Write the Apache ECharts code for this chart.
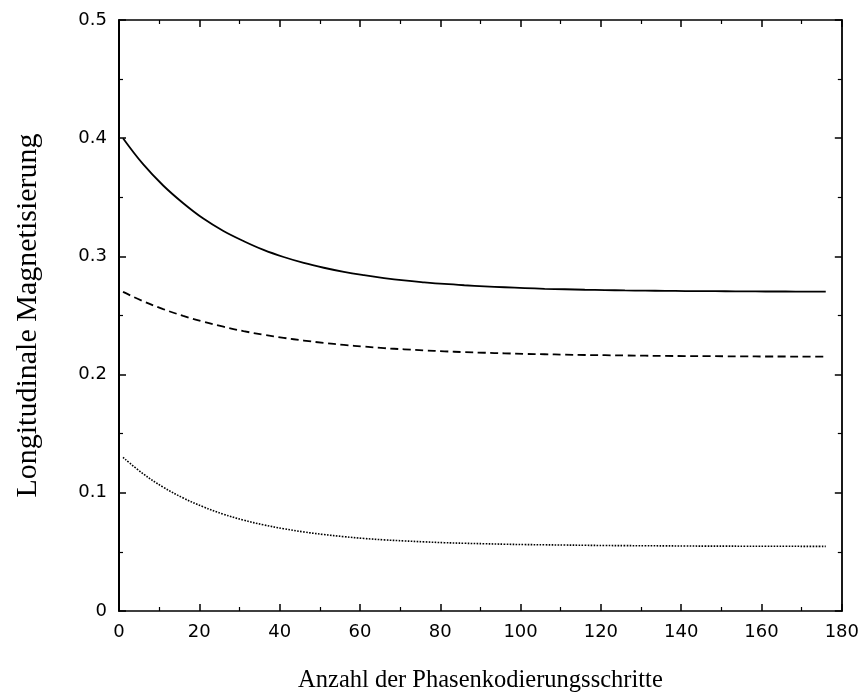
<!DOCTYPE html>
<html>
<head>
<meta charset="utf-8">
<script src="https://cdn.jsdelivr.net/npm/echarts@6/dist/echarts.min.js"></script>
<style>html,body{margin:0;padding:0;background:#fff}#c{width:862px;height:698px}</style>
</head>
<body>
<div id="c"></div>
<script>
const steps = [1, 6, 11, 16, 21, 26, 31, 36, 41, 46, 51, 56, 61, 66, 71, 76, 81, 86, 91, 96, 101, 106, 111, 116, 121, 126, 131, 136, 141, 146, 151, 156, 161, 166, 171, 176];
const solidVals = [0.400, 0.378, 0.360, 0.345, 0.332, 0.3215, 0.313, 0.3055, 0.2995, 0.2945, 0.2904, 0.2869, 0.2841, 0.2817, 0.2797, 0.2781, 0.2767, 0.2756, 0.2747, 0.2739, 0.2732, 0.2726, 0.2722, 0.2718, 0.2715, 0.2712, 0.2710, 0.2709, 0.2707, 0.2706, 0.2705, 0.2704, 0.2703, 0.2703, 0.2702, 0.2702];
const dashedVals = [0.270, 0.2621, 0.2554, 0.2497, 0.2447, 0.2405, 0.2368, 0.2337, 0.2311, 0.2288, 0.2268, 0.2251, 0.2237, 0.2224, 0.2214, 0.2205, 0.2197, 0.2190, 0.2185, 0.2180, 0.2175, 0.2172, 0.2169, 0.2166, 0.2164, 0.2162, 0.2160, 0.2158, 0.2157, 0.2156, 0.2155, 0.2154, 0.2153, 0.2153, 0.2152, 0.2152];
const dottedVals = [0.130, 0.1161, 0.1048, 0.0956, 0.0881, 0.0819, 0.0769, 0.0729, 0.0696, 0.0669, 0.0647, 0.0629, 0.0614, 0.0602, 0.0593, 0.0585, 0.0578, 0.0573, 0.0569, 0.0565, 0.0562, 0.0560, 0.0558, 0.0556, 0.0554, 0.0553, 0.0552, 0.0551, 0.0550, 0.0549, 0.0549, 0.0548, 0.0548, 0.0548, 0.0547, 0.0547];
const xTicks = { min: 0, max: 180, interval: 20 };
const yTicks = { min: 0, max: 0.5, interval: 0.1 };
const xTitle = 'Anzahl der Phasenkodierungsschritte';
const yTitle = 'Longitudinale Magnetisierung';

const pair = v => steps.map((s, i) => [s, v[i]]);
const chart = echarts.init(document.getElementById('c'));
const mkLine = w => ({ show: true, onZero: false, lineStyle: { color: '#000', width: w } });
const major = { show: true, inside: true, length: 7, lineStyle: { color: '#000', width: 1.5 } };
const minor = { show: true, splitNumber: 2, length: 4, lineStyle: { color: '#000', width: 1.2 } };
const labelFont = { color: '#000', fontFamily: 'DejaVu Sans', fontSize: 18 };
chart.setOption({
  animation: false,
  grid: { left: 119, top: 20, right: 19, bottom: 84 },
  xAxis: [
    Object.assign({ type: 'value', position: 'bottom', axisLine: mkLine(1.6), axisTick: major, minorTick: minor,
      splitLine: { show: false },
      axisLabel: Object.assign({ margin: 12 }, labelFont),
      name: xTitle, nameLocation: 'middle', nameGap: 57,
      nameTextStyle: { color: '#000', fontFamily: 'Liberation Serif', fontSize: 24.5 } }, xTicks),
    Object.assign({ type: 'value', position: 'top', axisLine: mkLine(1.5), axisTick: major, minorTick: minor,
      splitLine: { show: false }, axisLabel: { show: false } }, xTicks)
  ],
  yAxis: [
    Object.assign({ type: 'value', position: 'left', axisLine: mkLine(2), axisTick: major, minorTick: minor,
      splitLine: { show: false },
      axisLabel: Object.assign({ margin: 12, formatter: v => v === 0 ? '0' : v.toFixed(1) }, labelFont),
      name: yTitle, nameLocation: 'middle', nameGap: 76, nameRotate: 90,
      nameTextStyle: { color: '#000', fontFamily: 'Liberation Serif', fontSize: 30 } }, yTicks),
    Object.assign({ type: 'value', position: 'right', axisLine: mkLine(1.8), axisTick: major, minorTick: minor,
      splitLine: { show: false }, axisLabel: { show: false } }, yTicks)
  ],
  series: [
    { type: 'line', data: pair(solidVals), smooth: 0.4, showSymbol: false,
      lineStyle: { color: '#000', width: 1.8, type: 'solid' } },
    { type: 'line', data: pair(dashedVals), smooth: 0.4, showSymbol: false,
      lineStyle: { color: '#000', width: 1.8, type: [8, 4.5] } },
    { type: 'line', data: pair(dottedVals), smooth: 0.4, showSymbol: false,
      lineStyle: { color: '#000', width: 1.6, type: [1.6, 1.4] } }
  ]
});
</script>
</body>
</html>
